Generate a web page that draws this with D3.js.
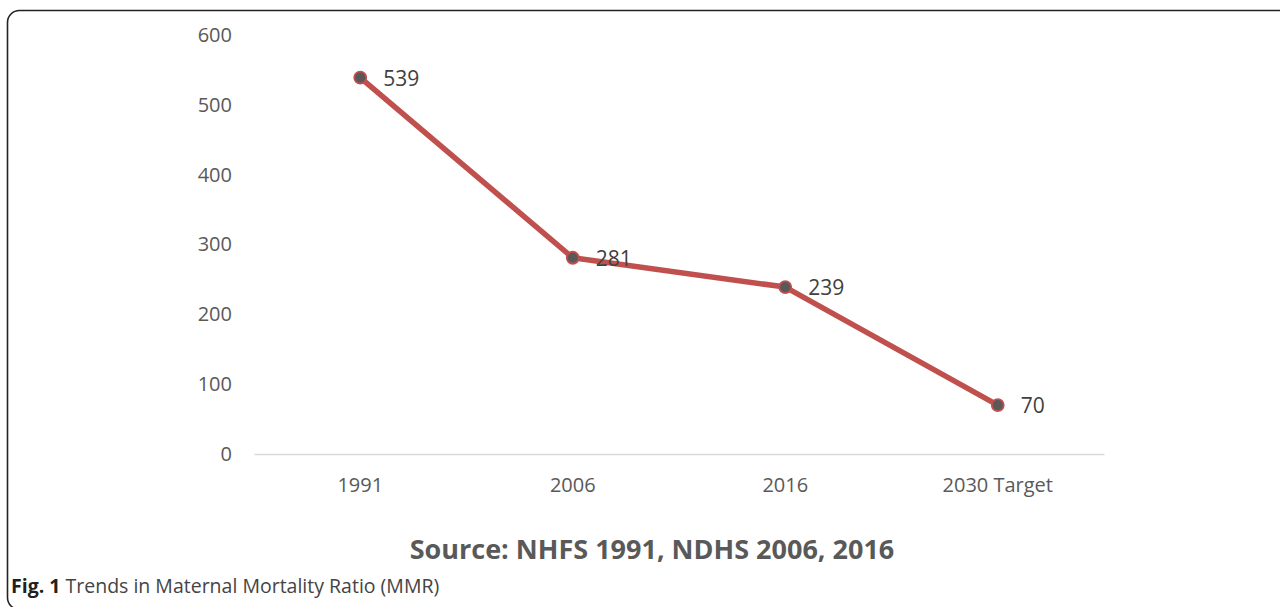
<!DOCTYPE html>
<html>
<head>
<meta charset="utf-8">
<script src="https://d3js.org/d3.v7.min.js"></script>
<style>
  body { margin: 0; background: #fff; }
  svg { display: block; }
</style>
</head>
<body>
<svg id="chart" width="1280" height="607"></svg>
<script>
  var categories = ["1991", "2006", "2016", "2030 Target"];
  var mmrValues = [539, 281, 239, 70];
  var yTicks = [0, 100, 200, 300, 400, 500, 600];
  var sourceText = "Source: NHFS 1991, NDHS 2006, 2016";

  var svg = d3.select("#chart");
  var font = "'Open Sans', 'DejaVu Sans', sans-serif";

  // frame round the figure
  svg.append("rect")
      .attr("x", 7.5).attr("y", 10.5)
      .attr("width", 1300).attr("height", 599)
      .attr("rx", 12)
      .attr("fill", "none")
      .attr("stroke", "#222")
      .attr("stroke-width", 1.6);

  var x = d3.scaleBand()
      .domain(categories)
      .range([254, 1104]);

  var y = d3.scaleLinear()
      .domain([0, 600])
      .range([454, 35]);

  // y axis labels (no line, no ticks)
  svg.append("g")
      .attr("transform", "translate(232,0)")
      .call(d3.axisLeft(y).tickValues(yTicks).tickSize(0).tickPadding(0))
      .call(function(g) {
        g.select(".domain").remove();
        g.selectAll("text")
          .attr("fill", "#595959")
          .style("font-family", font)
          .style("font-size", "20px");
      });

  // x axis
  svg.append("g")
      .attr("transform", "translate(0," + y(0) + ")")
      .call(d3.axisBottom(x).tickSize(0).tickPadding(24))
      .call(function(g) {
        g.select(".domain").attr("stroke", "#d9d9d9").attr("stroke-width", 1.5);
        g.selectAll("text")
          .attr("fill", "#595959")
          .style("font-family", font)
          .style("font-size", "20px");
      });

  var pts = categories.map(function(c, i) { return {cat: c, val: mmrValues[i]}; });

  var line = d3.line()
      .x(function(d) { return x(d.cat) + x.bandwidth() / 2; })
      .y(function(d) { return y(d.val); });

  svg.append("path")
      .datum(pts)
      .attr("d", line)
      .attr("fill", "none")
      .attr("stroke", "#c0504d")
      .attr("stroke-width", 5.5)
      .attr("stroke-linejoin", "round");

  svg.selectAll(".dot")
      .data(pts)
    .enter().append("circle")
      .attr("class", "dot")
      .attr("cx", function(d) { return x(d.cat) + x.bandwidth() / 2; })
      .attr("cy", function(d) { return y(d.val); })
      .attr("r", 6)
      .attr("fill", "#595959")
      .attr("stroke", "#c0504d")
      .attr("stroke-width", 1.8);

  svg.selectAll(".lbl")
      .data(pts)
    .enter().append("text")
      .attr("class", "lbl")
      .attr("x", function(d) { return x(d.cat) + x.bandwidth() / 2 + 23; })
      .attr("y", function(d) { return y(d.val) + 8; })
      .attr("fill", "#404040")
      .style("font-family", font)
      .style("font-size", "21px")
      .text(function(d) { return d.val; });

  svg.append("text")
      .attr("x", 652).attr("y", 559)
      .attr("text-anchor", "middle")
      .attr("fill", "#595959")
      .style("font-family", font)
      .style("font-weight", "bold")
      .style("font-size", "27px")
      .text(sourceText);

  var cap = svg.append("text")
      .attr("x", 11).attr("y", 593)
      .attr("fill", "#231f20")
      .style("font-family", font)
      .style("font-size", "19.5px");
  cap.append("tspan").style("font-weight", "bold").text("Fig. 1");
  cap.append("tspan").attr("fill", "#444").text(" Trends in Maternal Mortality Ratio (MMR)");
</script>
</body>
</html>
